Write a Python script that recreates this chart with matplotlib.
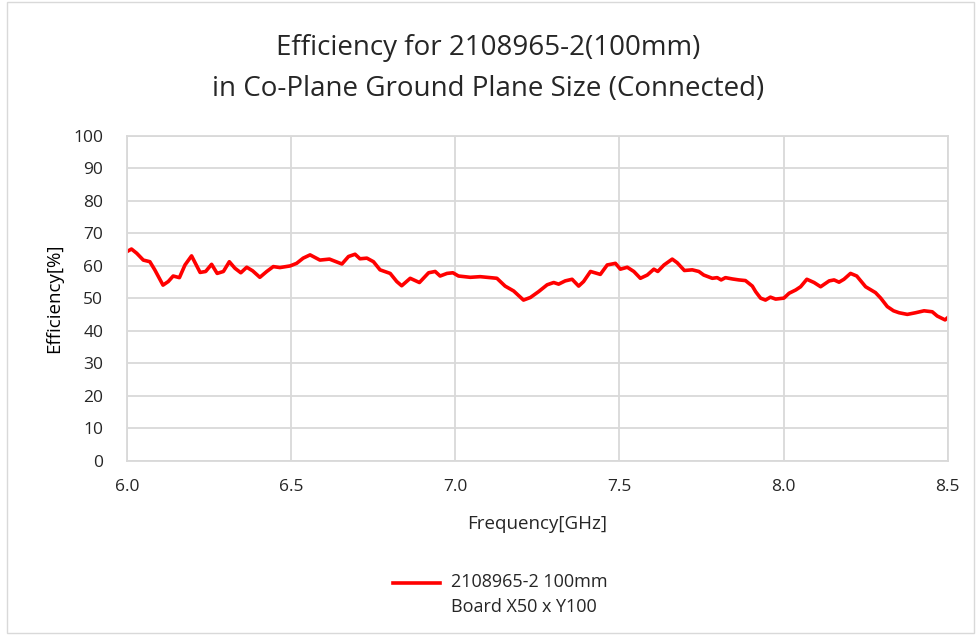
import matplotlib.pyplot as plt
import matplotlib.patches as patches
import matplotlib.transforms as mtransforms

plt.rcParams['font.family'] = ['Open Sans', 'DejaVu Sans']

freq = [6.000, 6.014, 6.030, 6.050, 6.070, 6.085, 6.110, 6.126, 6.141, 6.160,
        6.177, 6.197, 6.223, 6.240, 6.258, 6.275, 6.294, 6.312, 6.329, 6.347,
        6.365, 6.383, 6.405, 6.426, 6.446, 6.466, 6.497, 6.517, 6.537, 6.558,
        6.588, 6.617, 6.655, 6.675, 6.695, 6.710, 6.731, 6.751, 6.771, 6.802,
        6.822, 6.837, 6.863, 6.891, 6.919, 6.939, 6.954, 6.975, 6.993, 7.010,
        7.046, 7.076, 7.107, 7.127, 7.152, 7.178, 7.208, 7.229, 7.254, 7.280,
        7.300, 7.315, 7.335, 7.356, 7.376, 7.391, 7.412, 7.442, 7.463, 7.488,
        7.503, 7.524, 7.544, 7.564, 7.585, 7.605, 7.617, 7.636, 7.661, 7.676,
        7.698, 7.722, 7.742, 7.757, 7.783, 7.798, 7.810, 7.823, 7.844, 7.864,
        7.884, 7.905, 7.915, 7.930, 7.945, 7.960, 7.976, 8.001, 8.017, 8.037,
        8.052, 8.071, 8.093, 8.113, 8.139, 8.154, 8.169, 8.184, 8.204, 8.223,
        8.250, 8.280, 8.296, 8.316, 8.335, 8.352, 8.377, 8.402, 8.428, 8.453,
        8.468, 8.492, 8.500]
eff = [64.4, 65.2, 63.9, 61.8, 61.3, 58.8, 54.1, 55.2, 56.9, 56.4,
       60.3, 63.1, 58.0, 58.3, 60.5, 57.7, 58.3, 61.3, 59.3, 57.9,
       59.6, 58.5, 56.5, 58.3, 59.8, 59.5, 60.0, 60.8, 62.4, 63.4,
       61.8, 62.1, 60.6, 62.9, 63.6, 62.2, 62.4, 61.3, 58.8, 57.7,
       55.2, 53.9, 56.2, 54.9, 57.9, 58.3, 56.9, 57.7, 57.9, 56.9,
       56.5, 56.7, 56.4, 56.2, 53.8, 52.3, 49.5, 50.3, 52.1, 54.2,
       54.9, 54.4, 55.4, 55.9, 53.8, 55.2, 58.3, 57.4, 60.3, 60.8,
       59.0, 59.6, 58.3, 56.2, 57.2, 59.0, 58.3, 60.3, 62.1, 61.0,
       58.6, 58.8, 58.3, 57.2, 56.2, 56.4, 55.7, 56.4, 56.0, 55.7,
       55.5, 53.8, 52.1, 50.1, 49.5, 50.4, 49.8, 50.1, 51.6, 52.6,
       53.6, 55.9, 54.9, 53.6, 55.4, 55.7, 55.0, 55.9, 57.7, 56.9,
       53.6, 51.8, 50.1, 47.5, 46.2, 45.6, 45.1, 45.6, 46.2, 45.9,
       44.6, 43.4, 44.1]

xticks = [6.0, 6.5, 7.0, 7.5, 8.0, 8.5]
yticks = list(range(0, 101, 10))

fig = plt.figure(figsize=(9.76, 6.35), dpi=100)
ax = fig.add_axes([0.130, 0.274, 0.841, 0.512])

ax.plot(freq, eff, color='#ff0000', lw=2.6, solid_joinstyle='round',
        label='2108965-2 100mm\nBoard X50 x Y100')

ax.set_xlim(6.0, 8.5)
ax.set_ylim(0, 100)
ax.set_xticks(xticks)
ax.set_xticklabels([f'{t:.1f}' for t in xticks])
ax.set_yticks(yticks)
ax.grid(True, color='#d9d9d9', lw=1.3)
ax.set_axisbelow(True)
for s in ax.spines.values():
    s.set_color('#d9d9d9')
    s.set_linewidth(1.3)
ax.tick_params(length=0, labelsize=12.5, colors='#262626')
ax.tick_params(axis='y', pad=17)
ax.tick_params(axis='x', pad=13)

ax.set_xlabel('Frequency[GHz]', fontsize=13.5, color='#262626', labelpad=14)
ax.set_ylabel('Efficiency[%]', fontsize=13.5, color='#000000', labelpad=7)

fig.text(0.5, 0.924, 'Efficiency for 2108965-2(100mm)', ha='center', va='center',
         fontsize=20, color='#262626')
fig.text(0.5, 0.860, 'in Co-Plane Ground Plane Size (Connected)', ha='center',
         va='center', fontsize=20, color='#262626')

leg = fig.legend(loc='center', bbox_to_anchor=(0.513, 0.064), frameon=False,
                 fontsize=13, handlelength=2.6, handletextpad=0.6,
                 labelcolor='#262626')
for t in leg.get_texts():
    t.set_linespacing(1.45)
# excel puts the legend swatch level with the first text line
fig.canvas.draw()
for ln in leg.get_lines():
    ln.set_transform(ln.get_transform() +
                     mtransforms.ScaledTranslation(0, 0.12, fig.dpi_scale_trans))

fig.patches.append(patches.Rectangle((0.007, 0.003), 0.991, 0.994,
                                     transform=fig.transFigure, fill=False,
                                     edgecolor='#d9d9d9', lw=1))

fig.savefig('out.png', dpi=100)
